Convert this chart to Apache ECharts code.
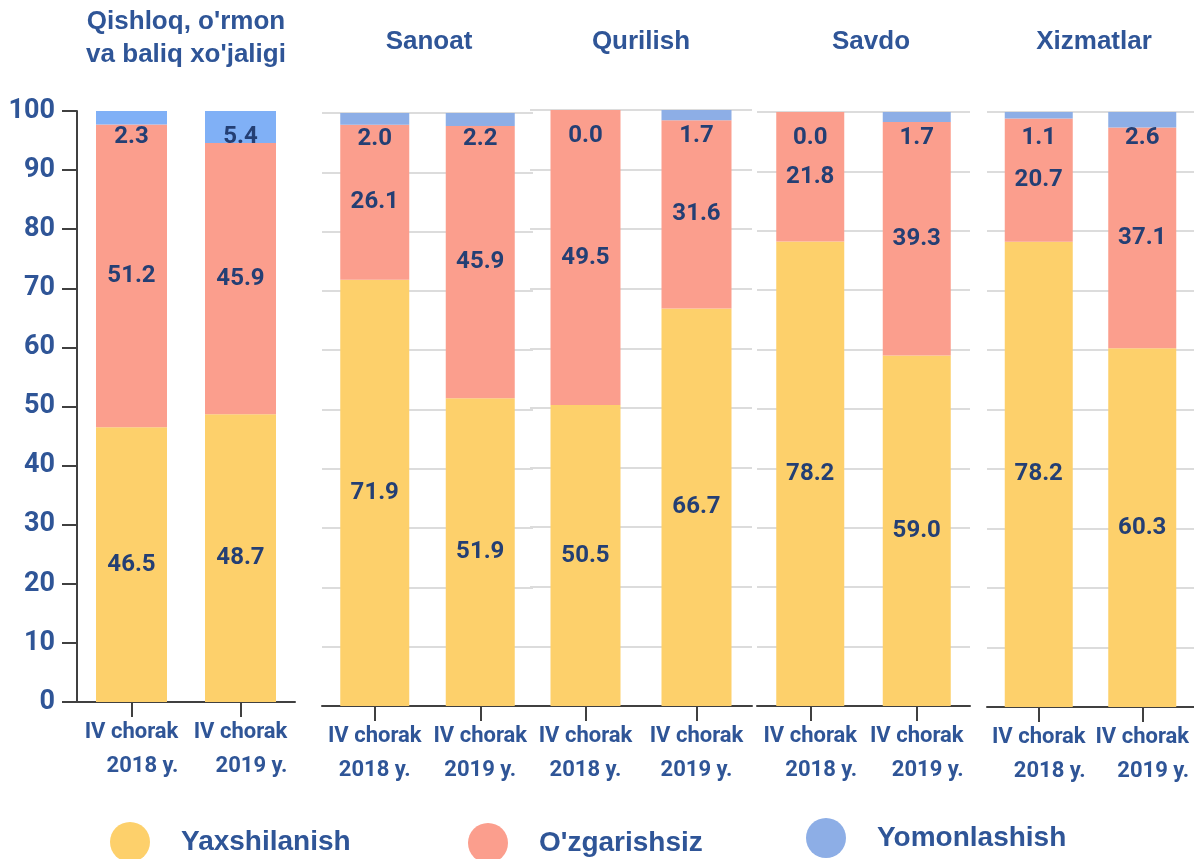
<!DOCTYPE html>
<html>
<head>
<meta charset="utf-8">
<script src="https://cdn.jsdelivr.net/npm/echarts@6/dist/echarts.min.js"></script>
<style>
html,body{margin:0;padding:0;background:#fff;}
#chart{width:1194px;height:859px;}
</style>
</head>
<body>
<div id="chart"></div>
<script>
// ---- data ----
var sectors = ["Qishloq, o'rmon\nva baliq xo'jaligi", "Sanoat", "Qurilish", "Savdo", "Xizmatlar"];
var periodTop = "IV chorak";
var periodYears = ["2018 y.", "2019 y."];
var seriesNames = ["Yaxshilanish", "O'zgarishsiz", "Yomonlashish"];
var yaxshilanish = [[46.5, 48.7], [71.9, 51.9], [50.5, 66.7], [78.2, 59.0], [78.2, 60.3]];
var ozgarishsiz  = [[51.2, 45.9], [26.1, 45.9], [49.5, 31.6], [21.8, 39.3], [20.7, 37.1]];
var yomonlashish = [[2.3, 5.4], [2.0, 2.2], [0.0, 1.7], [0.0, 1.7], [1.1, 2.6]];
var yTicks = [0, 10, 20, 30, 40, 50, 60, 70, 80, 90, 100];

// ---- layout / style ----
var panels = [
  {left: 77,  top: 111, width: 218, height: 591, barWidth: 71, titleX: 186, titleY: 38, labelAlign: 'right'},
  {left: 322, top: 113, width: 211, height: 593, barWidth: 69, titleX: 429, titleY: 42, labelAlign: 'center'},
  {left: 530, top: 110, width: 222, height: 596, barWidth: 70, titleX: 641, titleY: 42, labelAlign: 'center'},
  {left: 757, top: 112, width: 213, height: 594, barWidth: 68, titleX: 871, titleY: 42, labelAlign: 'right'},
  {left: 987, top: 112, width: 214, height: 595, barWidth: 68, titleX: 1094, titleY: 42, labelAlign: 'right'}
];
var cYellow = '#FDD06B', cRed = '#FB9E8D', cBlue = '#8DAEE6', cBlue1 = '#80B0F6';
var navy = '#2F5597', labelNavy = '#243F74', axisCol = '#404040';
var numFont = 'Roboto';
var txtFont = '"Liberation Sans", Arial, sans-serif';

var grids = [], xAxes = [], yAxes = [], series = [], graphics = [];
panels.forEach(function (p, i) {
  grids.push({left: p.left, top: p.top, width: p.width, height: p.height, containLabel: false});
  xAxes.push({
    type: 'category', gridIndex: i,
    data: periodYears.slice(),
    axisLine: {show: true, lineStyle: {color: axisCol, width: 2}},
    axisTick: {show: true, alignWithLabel: true, length: 15, lineStyle: {color: axisCol, width: 2}},
    axisLabel: {
      margin: 13,
      formatter: function (v) { return '{a|' + periodTop + '}\n{b|' + v + '}'; },
      rich: {
        a: {fontFamily: numFont, fontWeight: 'bold', fontSize: 22, color: navy, lineHeight: 34},
        b: {fontFamily: numFont, fontWeight: 'bold', fontSize: 22, color: navy, lineHeight: 34, align: p.labelAlign}
      }
    },
    splitLine: {show: false}
  });
  yAxes.push({
    type: 'value', gridIndex: i, min: 0, max: 100, interval: 10,
    axisLine: {show: i === 0, lineStyle: {color: axisCol, width: 2}},
    axisTick: {show: i === 0, length: 15, lineStyle: {color: axisCol, width: 2}},
    axisLabel: {show: i === 0, margin: 22, fontFamily: numFont, fontWeight: 'bold', fontSize: 27, color: navy},
    splitLine: {show: i !== 0, lineStyle: {color: '#DCDCDC', width: 2}}
  });
  var lbl = {show: true, fontFamily: numFont, fontWeight: 'bold', fontSize: 24, color: labelNavy,
             formatter: function (d) { return d.value.toFixed(1); }};
  series.push({
    name: seriesNames[0], type: 'bar', stack: 's' + i, xAxisIndex: i, yAxisIndex: i,
    barWidth: p.barWidth, data: yaxshilanish[i], itemStyle: {color: cYellow},
    label: Object.assign({position: 'inside'}, lbl)
  });
  series.push({
    name: seriesNames[1], type: 'bar', stack: 's' + i, xAxisIndex: i, yAxisIndex: i,
    barWidth: p.barWidth, data: ozgarishsiz[i], itemStyle: {color: cRed},
    label: Object.assign({position: 'inside'}, lbl)
  });
  series.push({
    name: seriesNames[2], type: 'bar', stack: 's' + i, xAxisIndex: i, yAxisIndex: i,
    barWidth: p.barWidth, data: yomonlashish[i], itemStyle: {color: i === 0 ? cBlue1 : cBlue},
    label: Object.assign({position: 'insideTop', distance: 14}, lbl)
  });
  graphics.push({
    type: 'text', x: p.titleX, y: p.titleY,
    style: {text: sectors[i], x: 0, y: 0, textAlign: 'center', textVerticalAlign: 'middle',
            font: 'bold 26px ' + txtFont, fill: navy, lineHeight: 33}
  });
});

var legendBase = {
  orient: 'horizontal', padding: 0, icon: 'circle', itemWidth: 40, itemHeight: 40,
  selectedMode: false,
  textStyle: {fontFamily: txtFont, fontWeight: 'bold', fontSize: 28, color: navy, padding: [0, 0, 0, 26]}
};
var legends = [
  Object.assign({}, legendBase, {left: 110, top: 822, data: [{name: seriesNames[0], itemStyle: {color: cYellow}}]}),
  Object.assign({}, legendBase, {left: 468, top: 823, data: [{name: seriesNames[1], itemStyle: {color: cRed}}]}),
  Object.assign({}, legendBase, {left: 806, top: 818, data: [{name: seriesNames[2], itemStyle: {color: cBlue}}]})
];

var chart = echarts.init(document.getElementById('chart'), null, {renderer: 'canvas'});
chart.setOption({
  animation: false,
  backgroundColor: '#ffffff',
  grid: grids,
  xAxis: xAxes,
  yAxis: yAxes,
  legend: legends,
  graphic: graphics,
  series: series
});
</script>
</body>
</html>
